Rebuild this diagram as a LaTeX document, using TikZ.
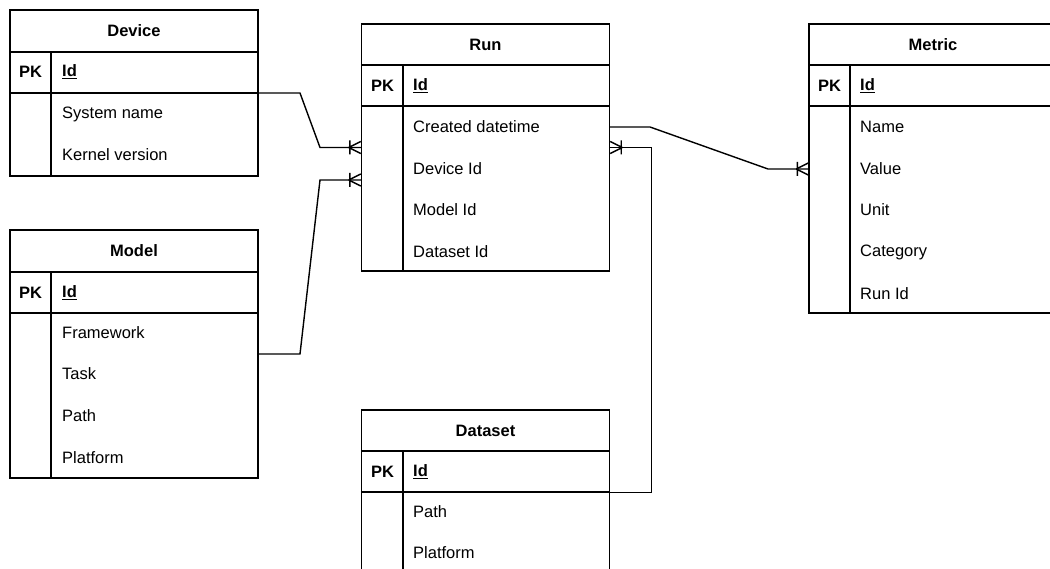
\documentclass[tikz,border=0pt]{standalone}
\usepackage{fontspec}
\setmainfont{Liberation Sans}
\begin{document}
\begin{tikzpicture}[x=1pt,y=-1pt,
  tbl/.style={draw, line width=1.4pt, rectangle, inner sep=0pt, minimum width=248pt},
  sep/.style={line width=1.4pt},
  title/.style={font=\fontsize{16.5}{19}\selectfont\bfseries, inner sep=0pt},
  pk/.style={font=\fontsize{16.5}{19}\selectfont\bfseries, inner sep=0pt},
  fld/.style={font=\fontsize{16.5}{19}\selectfont, inner sep=0pt, anchor=west},
  rel/.style={line width=1.4pt},
  crow/.pic={\draw[line width=1.4pt] (-12,0) -- (0,-6) (-12,0) -- (0,6) (-11,-7) -- (-11,7);}
]
\useasboundingbox (0,0) rectangle (1050,569);
\clip (0,0) rectangle (1050,569);
\fill[white] (0,0) rectangle (1050,569);

% ---------- Device ----------
\node[tbl, minimum height=166pt] (dev) at (134,93) {};
\draw[sep] (dev.west |- 0,52) -- (dev.east |- 0,52);
\draw[sep] (dev.west |- 0,93) -- (dev.east |- 0,93);
\draw[sep] (51,52) -- (51,176);
\node[title] (devT) at (134,31) {Device};
\node[pk] (devPK) at (30.5,72) {PK};
\node[fld] (devId) at (62,72) {\textbf{\underline{Id}}};
\node[fld] (devSys) at (62,114) {System name};
\node[fld] (devKer) at (62,155) {Kernel version};

% ---------- Model ----------
\node[tbl, minimum height=248pt] (mod) at (134,354) {};
\draw[sep] (mod.west |- 0,272) -- (mod.east |- 0,272);
\draw[sep] (mod.west |- 0,313) -- (mod.east |- 0,313);
\draw[sep] (51,272) -- (51,478);
\node[title] (modT) at (134,251) {Model};
\node[pk] (modPK) at (30.5,293) {PK};
\node[fld] (modId) at (62,293) {\textbf{\underline{Id}}};
\node[fld] (modFw) at (62,333) {Framework};
\node[fld] (modTask) at (62,374) {Task};
\node[fld] (modPath) at (62,416) {Path};
\node[fld] (modPlat) at (62,458) {Platform};

% ---------- Run ----------
\node[tbl, minimum height=247pt] (run) at (485.5,147.5) {};
\draw[sep] (run.west |- 0,65) -- (run.east |- 0,65);
\draw[sep] (run.west |- 0,106) -- (run.east |- 0,106);
\draw[sep] (403,65) -- (403,271);
\node[title] (runT) at (485.5,45) {Run};
\node[pk] (runPK) at (382.5,86) {PK};
\node[fld] (runId) at (413,86) {\textbf{\underline{Id}}};
\node[fld] (runCreated) at (413,127) {Created datetime};
\node[fld] (runDev) at (413,169) {Device Id};
\node[fld] (runMod) at (413,210) {Model Id};
\node[fld] (runDs) at (413,252) {Dataset Id};

% ---------- Metric ----------
\node[tbl, minimum height=289pt] (met) at (933,168.5) {};
\draw[sep] (met.west |- 0,65) -- (met.east |- 0,65);
\draw[sep] (met.west |- 0,106) -- (met.east |- 0,106);
\draw[sep] (850,65) -- (850,313);
\node[title] (metT) at (933,45) {Metric};
\node[pk] (metPK) at (829.5,86) {PK};
\node[fld] (metId) at (860,86) {\textbf{\underline{Id}}};
\node[fld] (metName) at (860,127) {Name};
\node[fld] (metValue) at (860,169) {Value};
\node[fld] (metUnit) at (860,210) {Unit};
\node[fld] (metCat) at (860,252) {Category};
\node[fld] (metRun) at (860,294) {Run Id};

% ---------- Dataset ----------
\node[tbl, minimum height=165pt] (ds) at (485.5,492.5) {};
\draw[sep] (ds.west |- 0,451) -- (ds.east |- 0,451);
\draw[sep] (ds.west |- 0,492) -- (ds.east |- 0,492);
\draw[sep] (403,451) -- (403,575);
\node[title] (dsT) at (485.5,431) {Dataset};
\node[pk] (dsPK) at (382.5,472) {PK};
\node[fld] (dsId) at (413,472) {\textbf{\underline{Id}}};
\node[fld] (dsPath) at (413,512) {Path};
\node[fld] (dsPlat) at (413,553) {Platform};

% ---------- Relations ----------
\draw[rel] (dev.east) -- (300,93) -- (320,147.5) -- (run.west);
\pic at (run.west) {crow};
\draw[rel] (mod.east) -- (300,354) -- (320,180) -- ([yshift=-32.5pt]run.west);
\pic at ([yshift=-32.5pt]run.west) {crow};
\draw[rel] (run.east |- runCreated) -- (650,127) -- (768,169) -- (met.west |- metValue);
\pic at (met.west |- metValue) {crow};
\draw[rel] (ds.east) -- ++(41,0) |- (run.east);
\pic[rotate=180] at (run.east) {crow};
\end{tikzpicture}
\end{document}
